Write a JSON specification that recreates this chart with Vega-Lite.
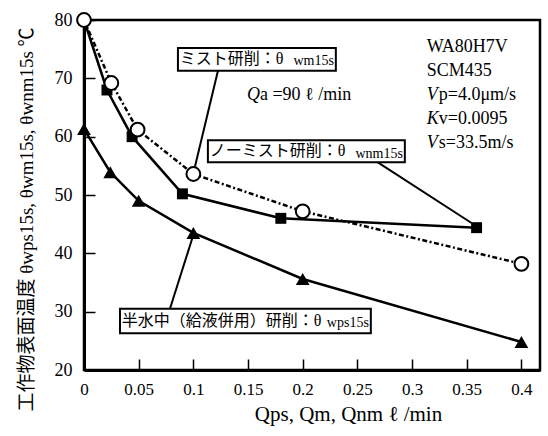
{
  "$schema": "https://vega.github.io/schema/vega-lite/v6.json",
  "width": 456,
  "height": 350,
  "autosize": {"type": "none"},
  "padding": {"left": 84, "top": 20, "right": 8, "bottom": 66},
  "background": "white",
  "config": {
    "view": {"stroke": "black", "strokeWidth": 2.5},
    "font": "Liberation Serif"
  },
  "data": {
    "values": [
      {"series": "nm", "x": 0, "y": 80},
      {"series": "nm", "x": 0.021, "y": 68},
      {"series": "nm", "x": 0.044, "y": 60},
      {"series": "nm", "x": 0.09, "y": 50.2},
      {"series": "nm", "x": 0.18, "y": 46},
      {"series": "nm", "x": 0.359, "y": 44.4},
      {"series": "ps", "x": 0, "y": 61.3},
      {"series": "ps", "x": 0.024, "y": 53.9},
      {"series": "ps", "x": 0.05, "y": 49},
      {"series": "ps", "x": 0.1, "y": 43.5},
      {"series": "ps", "x": 0.2, "y": 35.6},
      {"series": "ps", "x": 0.4, "y": 24.8},
      {"series": "m", "x": 0, "y": 80},
      {"series": "m", "x": 0.025, "y": 69.2},
      {"series": "m", "x": 0.049, "y": 61.2},
      {"series": "m", "x": 0.1, "y": 53.6},
      {"series": "m", "x": 0.2, "y": 47.2},
      {"series": "m", "x": 0.4, "y": 38.2}
    ]
  },
  "encoding": {
    "x": {
      "field": "x", "type": "quantitative",
      "scale": {"domain": [0, 0.417], "nice": false, "zero": false},
      "axis": {
        "values": [0, 0.05, 0.1, 0.15, 0.2, 0.25, 0.3, 0.35, 0.4],
        "format": "~g",
        "grid": false,
        "domainColor": "black", "domainWidth": 3,
        "tickColor": "black", "tickWidth": 1.5, "tickSize": -11,
        "labelFont": "Liberation Serif", "labelFontSize": 17, "labelColor": "black",
        "labelPadding": 22,
        "labelFlush": false,
        "labelOverlap": false,
        "title": "Qps, Qm, Qnm   ℓ /min",
        "titleFont": "Liberation Serif", "titleFontSize": 21, "titleFontWeight": "normal", "titleColor": "black",
        "titleX": 264, "titleY": 50, "titleBaseline": "alphabetic", "titleAlign": "center"
      }
    },
    "y": {
      "field": "y", "type": "quantitative",
      "scale": {"domain": [20, 80], "nice": false, "zero": false},
      "axis": {
        "values": [20, 30, 40, 50, 60, 70, 80],
        "grid": false,
        "domainColor": "black", "domainWidth": 3,
        "tickColor": "black", "tickWidth": 1.5, "tickSize": -11,
        "labelFont": "Liberation Serif", "labelFontSize": 18, "labelColor": "black",
        "labelPadding": 23,
        "labelFlush": false,
        "title": "工作物表面温度  θwps15s, θwm15s, θwnm15s ℃",
        "titleFont": "Liberation Serif, Noto Sans CJK JP", "titleFontSize": 19, "titleFontWeight": "normal", "titleColor": "black",
        "titleX": -58, "titleY": 199, "titleBaseline": "middle", "titleAlign": "center", "titleAngle": 270
      }
    }
  },
  "layer": [
    {
      "transform": [{"filter": "datum.series === 'nm'"}],
      "mark": {"type": "line", "color": "black", "strokeWidth": 2.5, "clip": false}
    },
    {
      "transform": [{"filter": "datum.series === 'nm'"}],
      "mark": {"type": "point", "shape": "square", "filled": true, "color": "black", "size": 120, "opacity": 1, "clip": false}
    },
    {
      "transform": [{"filter": "datum.series === 'ps'"}],
      "mark": {"type": "line", "color": "black", "strokeWidth": 2.5, "clip": false}
    },
    {
      "transform": [{"filter": "datum.series === 'ps'"}],
      "mark": {"type": "point", "shape": "triangle-up", "filled": true, "color": "black", "size": 190, "opacity": 1, "clip": false}
    },
    {
      "transform": [{"filter": "datum.series === 'm'"}],
      "mark": {"type": "line", "color": "black", "strokeWidth": 2.5, "strokeDash": [5, 2.5, 2, 2.5], "clip": false}
    },
    {
      "transform": [{"filter": "datum.series === 'm'"}],
      "mark": {"type": "point", "shape": "circle", "filled": true, "fill": "white", "stroke": "black", "strokeWidth": 2, "size": 190, "opacity": 1, "clip": false}
    },
    {
      "transform": [{"filter": "datum.series === 'nm' && datum.x === 0"}],
      "layer": [
        {
          "mark": {"type": "rule", "color": "black", "strokeWidth": 2},
          "encoding": {"x": {"datum": 0.1225}, "y": {"datum": 71.3}, "x2": {"datum": 0.1015}, "y2": {"datum": 54.9}}
        },
        {
          "mark": {"type": "rule", "color": "black", "strokeWidth": 2},
          "encoding": {"x": {"datum": 0.2687}, "y": {"datum": 55.6}, "x2": {"datum": 0.3544}, "y2": {"datum": 45.2}}
        },
        {
          "mark": {"type": "rule", "color": "black", "strokeWidth": 2},
          "encoding": {"x": {"datum": 0.0786}, "y": {"datum": 30.5}, "x2": {"datum": 0.0999}, "y2": {"datum": 43.1}}
        },
        {
          "mark": {"type": "rect", "fill": "white", "stroke": "black", "strokeWidth": 2},
          "encoding": {"x": {"datum": 0.0859}, "x2": {"datum": 0.2303}, "y": {"datum": 75.2}, "y2": {"datum": 71.3}}
        },
        {
          "mark": {"type": "rect", "fill": "white", "stroke": "black", "strokeWidth": 2},
          "encoding": {"x": {"datum": 0.1133}, "x2": {"datum": 0.2934}, "y": {"datum": 59.4}, "y2": {"datum": 55.6}}
        },
        {
          "mark": {"type": "rect", "fill": "white", "stroke": "black", "strokeWidth": 2},
          "encoding": {"x": {"datum": 0.0329}, "x2": {"datum": 0.2623}, "y": {"datum": 30.5}, "y2": {"datum": 26.3}}
        },
        {
          "mark": {"type": "text", "align": "left", "baseline": "middle", "fontSize": 16, "font": "Liberation Serif, Noto Sans CJK JP", "fill": "black", "text": "ミスト研削：θ"},
          "encoding": {"x": {"datum": 0.0875}, "y": {"datum": 73.25}}
        },
        {
          "mark": {"type": "text", "align": "right", "baseline": "middle", "fontSize": 14, "font": "Liberation Serif", "fill": "black", "text": "wm15s"},
          "encoding": {"x": {"datum": 0.2285}, "y": {"datum": 72.9}}
        },
        {
          "mark": {"type": "text", "align": "left", "baseline": "middle", "fontSize": 16, "font": "Liberation Serif, Noto Sans CJK JP", "fill": "black", "text": "ノーミスト研削：θ"},
          "encoding": {"x": {"datum": 0.115}, "y": {"datum": 57.5}}
        },
        {
          "mark": {"type": "text", "align": "right", "baseline": "middle", "fontSize": 14, "font": "Liberation Serif", "fill": "black", "text": "wnm15s"},
          "encoding": {"x": {"datum": 0.2916}, "y": {"datum": 57.1}}
        },
        {
          "mark": {"type": "text", "align": "left", "baseline": "middle", "fontSize": 16, "font": "Liberation Serif, Noto Sans CJK JP", "fill": "black", "text": "半水中（給液併用）研削：θ"},
          "encoding": {"x": {"datum": 0.0345}, "y": {"datum": 28.4}}
        },
        {
          "mark": {"type": "text", "align": "right", "baseline": "middle", "fontSize": 14, "font": "Liberation Serif", "fill": "black", "text": "wps15s"},
          "encoding": {"x": {"datum": 0.2605}, "y": {"datum": 28.0}}
        },
        {
          "mark": {"type": "text", "align": "left", "baseline": "middle", "fontSize": 18, "fontStyle": "italic", "font": "Liberation Serif", "fill": "black", "text": "Q"},
          "encoding": {"x": {"datum": 0.149}, "y": {"datum": 67.1}}
        },
        {
          "mark": {"type": "text", "align": "left", "baseline": "middle", "fontSize": 18, "dx": 13, "font": "Liberation Serif", "fill": "black", "text": "a =90  ℓ /min"},
          "encoding": {"x": {"datum": 0.149}, "y": {"datum": 67.1}}
        },
        {
          "mark": {"type": "text", "align": "left", "baseline": "middle", "fontSize": 18, "lineHeight": 24, "font": "Liberation Serif", "fill": "black",
            "text": ["WA80H7V", "SCM435"]},
          "encoding": {"x": {"datum": 0.3135}, "y": {"datum": 75.4}}
        },
        {
          "mark": {"type": "text", "align": "left", "baseline": "middle", "fontSize": 18, "lineHeight": 24, "fontStyle": "italic", "font": "Liberation Serif", "fill": "black",
            "text": ["V", "K", "V"]},
          "encoding": {"x": {"datum": 0.3135}, "y": {"datum": 67.17}}
        },
        {
          "mark": {"type": "text", "align": "left", "baseline": "middle", "fontSize": 18, "lineHeight": 24, "dx": 12, "font": "Liberation Serif", "fill": "black",
            "text": ["p=4.0μm/s", "v=0.0095", "s=33.5m/s"]},
          "encoding": {"x": {"datum": 0.3135}, "y": {"datum": 67.17}}
        }
      ]
    }
  ]
}
